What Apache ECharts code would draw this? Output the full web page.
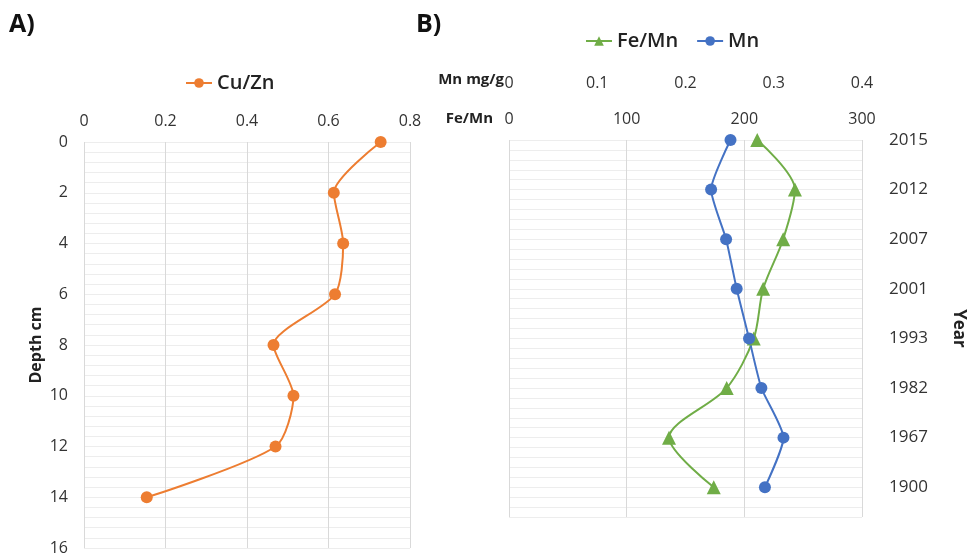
<!DOCTYPE html>
<html>
<head>
<meta charset="utf-8">
<script src="https://cdn.jsdelivr.net/npm/echarts@6/dist/echarts.min.js"></script>
<style>
  html, body { margin: 0; padding: 0; background: #fff; }
  #chart { width: 970px; height: 556px; }
</style>
</head>
<body>
<div id="chart"></div>
<script>
// panel A: Cu/Zn against depth
const depthCm = [0, 2, 4, 6, 8, 10, 12, 14]
const cuZn = [0.728, 0.613, 0.636, 0.616, 0.465, 0.514, 0.470, 0.154]

// panel B: Fe/Mn and Mn against sample year (sample slots 0..14 step 2)
const sampleSlot = [0, 2, 4, 6, 8, 10, 12, 14]
const years = ['2015', '2012', '2007', '2001', '1993', '1982', '1967', '1900']
const feMn = [211, 243, 233, 216, 208, 185, 136, 174]
const mnMgG = [0.251, 0.229, 0.246, 0.258, 0.272, 0.286, 0.311, 0.290]

const FONT = 'Open Sans'
const gridV = '#d9d9d9'
const gridH = '#ededed'

const chart = echarts.init(document.getElementById('chart'))

const tickLabel = { fontFamily: FONT, fontSize: 16, color: '#333' }

chart.setOption({
  animation: false,
  color: ['#ED7D31', '#70AD47', '#4472C4'],
  textStyle: { fontFamily: FONT },
  legend: [
    {
      data: ['Cu/Zn'],
      left: 180, top: 68,
      itemWidth: 26, itemHeight: 12,
      textStyle: { fontFamily: FONT, fontSize: 20, fontWeight: 600, color: '#222' }
    },
    {
      data: ['Fe/Mn', 'Mn'],
      left: 580, top: 26,
      itemWidth: 26, itemHeight: 12, itemGap: 18,
      textStyle: { fontFamily: FONT, fontSize: 20, fontWeight: 600, color: '#222' }
    }
  ],
  grid: [
    { left: 84, right: 560, top: 142, bottom: 7 },
    { left: 509, right: 108, top: 140, bottom: 39 }
  ],
  xAxis: [
    {
      gridIndex: 0, type: 'value', position: 'top',
      min: 0, max: 0.8, interval: 0.2,
      axisLine: { show: false }, axisTick: { show: false },
      axisLabel: { ...tickLabel, margin: 13 },
      splitLine: { lineStyle: { color: gridV } }
    },
    {
      gridIndex: 1, type: 'value', position: 'top',
      min: 0, max: 300, interval: 100,
      axisLine: { show: false }, axisTick: { show: false },
      axisLabel: { ...tickLabel, margin: 13 },
      splitLine: { lineStyle: { color: gridV } }
    },
    {
      gridIndex: 1, type: 'value', position: 'top', offset: 36,
      min: 0, max: 0.4, interval: 0.1,
      axisLine: { show: false }, axisTick: { show: false },
      axisLabel: { ...tickLabel, margin: 13 },
      splitLine: { show: false }
    }
  ],
  yAxis: [
    {
      gridIndex: 0, type: 'value', inverse: true,
      min: 0, max: 16, interval: 2,
      name: 'Depth cm', nameLocation: 'middle', nameGap: 40,
      nameTextStyle: { fontFamily: FONT, fontSize: 16, fontWeight: 'bold', color: '#222' },
      axisLine: { show: false }, axisTick: { show: false },
      axisLabel: { ...tickLabel, margin: 16 },
      splitLine: { lineStyle: { color: gridH } },
      minorTick: { show: false, splitNumber: 5 },
      minorSplitLine: { show: true, lineStyle: { color: gridH } }
    },
    {
      gridIndex: 1, type: 'value', inverse: true, position: 'right',
      min: 0, max: 15.2, interval: 2,
      name: 'Year', nameLocation: 'middle', nameGap: 88, nameRotate: -90,
      nameTextStyle: { fontFamily: FONT, fontSize: 17, fontWeight: 'bold', color: '#222' },
      axisLine: { show: false }, axisTick: { show: false },
      axisLabel: {
        fontFamily: FONT, fontSize: 17, color: '#333', margin: 27,
        showMaxLabel: false,
        formatter: v => years[sampleSlot.indexOf(v)] || ''
      },
      splitLine: { lineStyle: { color: gridH } },
      minorTick: { show: false, splitNumber: 5 },
      minorSplitLine: { show: true, lineStyle: { color: gridH } }
    }
  ],
  graphic: [
    { type: 'text', left: 9, top: 12, style: { text: 'A)', fontFamily: FONT, fontSize: 25, fontWeight: 'bold', fill: '#111' } },
    { type: 'text', left: 416, top: 12, style: { text: 'B)', fontFamily: FONT, fontSize: 25, fontWeight: 'bold', fill: '#111' } },
    { type: 'text', right: 466, top: 72, style: { text: 'Mn mg/g', fontFamily: FONT, fontSize: 15, fontWeight: 'bold', fill: '#222' } },
    { type: 'text', right: 477, top: 111, style: { text: 'Fe/Mn', fontFamily: FONT, fontSize: 15, fontWeight: 'bold', fill: '#222' } }
  ],
  series: [
    {
      name: 'Cu/Zn', type: 'line', xAxisIndex: 0, yAxisIndex: 0,
      smooth: 0.25, symbol: 'circle', symbolSize: 12,
      lineStyle: { width: 2 },
      data: cuZn.map((v, i) => [v, depthCm[i]])
    },
    {
      name: 'Fe/Mn', type: 'line', xAxisIndex: 1, yAxisIndex: 1,
      smooth: 0.3, symbol: 'triangle', symbolSize: 14,
      lineStyle: { width: 2 },
      data: feMn.map((v, i) => [v, sampleSlot[i]])
    },
    {
      name: 'Mn', type: 'line', xAxisIndex: 2, yAxisIndex: 1,
      smooth: 0.2, symbol: 'circle', symbolSize: 12,
      lineStyle: { width: 2 },
      data: mnMgG.map((v, i) => [v, sampleSlot[i]])
    }
  ]
})

window.addEventListener('resize', () => chart.resize())
</script>
</body>
</html>
